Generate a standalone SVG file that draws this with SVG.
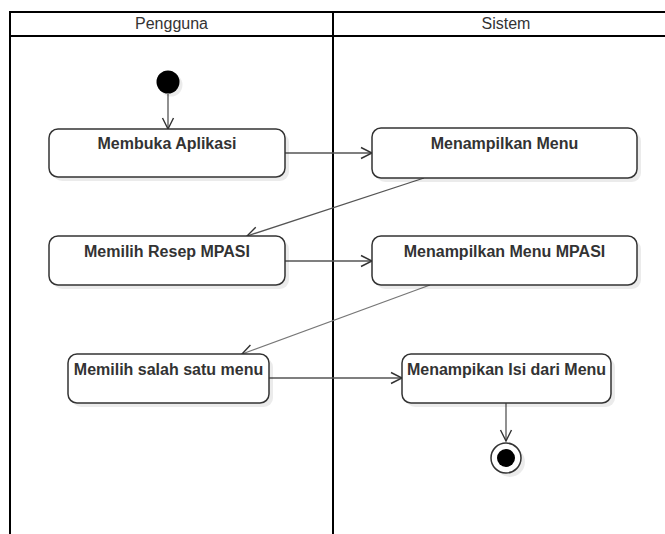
<svg xmlns="http://www.w3.org/2000/svg" width="665" height="534" viewBox="0 0 665 534">
<style>
.lane{fill:none;stroke:#000;stroke-width:2}
.hdr{font-family:"Liberation Sans",Arial,sans-serif;font-size:16px;fill:#333;text-anchor:middle}
.node{fill:#fff;stroke:#333;stroke-width:1.5}
.shadow{fill:#000;opacity:0.08}
.lbl{font-family:"Liberation Sans",Arial,sans-serif;font-size:16px;font-weight:bold;fill:#333;text-anchor:middle}
.conn{fill:none;stroke:#555;stroke-width:1.3;marker-end:url(#arr)}
</style>
<defs>
<marker id="arr" markerUnits="userSpaceOnUse" markerWidth="14" markerHeight="14" viewBox="0 0 14 14" refX="12" refY="7" orient="auto">
<path d="M1,1.5 L12,7 L1,12.5" fill="none" stroke="#333" stroke-width="1.4"/>
</marker>
</defs>
<rect width="665" height="534" fill="#fff"/>
<g id="swimlanes">
<rect class="lane" x="10" y="12" width="670" height="530"/>
<line class="lane" x1="10" y1="36" x2="680" y2="36"/>
<line class="lane" x1="333" y1="12" x2="333" y2="540"/>
<text class="hdr" x="171.5" y="29">Pengguna</text>
<text class="hdr" x="506" y="29">Sistem</text>
</g>
<g id="connectors">
<line class="conn" x1="168" y1="94" x2="168" y2="129"/>
<line class="conn" x1="285" y1="153" x2="372" y2="153"/>
<line class="conn" x1="424" y1="178" x2="247" y2="236"/>
<line class="conn" x1="285" y1="261" x2="372" y2="261"/>
<line class="conn" x1="430" y1="285" x2="242" y2="354" style="stroke:#777"/>
<line class="conn" x1="269" y1="378" x2="402" y2="378"/>
<line class="conn" x1="506" y1="403" x2="506" y2="441"/>
</g>
<g id="start">
<circle class="shadow" cx="171" cy="85" r="11.5"/>
<circle cx="168" cy="82" r="11.5" fill="#000"/>
</g>
<g id="n1">
<rect class="shadow" x="53" y="133" width="236" height="48" rx="9"/>
<rect class="node" x="49" y="129" width="236" height="48" rx="9"/>
<text class="lbl" x="167" y="149">Membuka Aplikasi</text>
</g>
<g id="n2">
<rect class="shadow" x="376" y="132" width="265" height="50" rx="9"/>
<rect class="node" x="372" y="128" width="265" height="50" rx="9"/>
<text class="lbl" x="504.5" y="149">Menampilkan Menu</text>
</g>
<g id="n3">
<rect class="shadow" x="53" y="240" width="236" height="49" rx="9"/>
<rect class="node" x="49" y="236" width="236" height="49" rx="9"/>
<text class="lbl" x="167" y="257">Memilih Resep MPASI</text>
</g>
<g id="n4">
<rect class="shadow" x="376" y="240" width="265" height="49" rx="9"/>
<rect class="node" x="372" y="236" width="265" height="49" rx="9"/>
<text class="lbl" x="504.5" y="257">Menampilkan Menu MPASI</text>
</g>
<g id="n5">
<rect class="shadow" x="72" y="358" width="201" height="49" rx="9"/>
<rect class="node" x="68" y="354" width="201" height="49" rx="9"/>
<text class="lbl" x="168.5" y="375">Memilih salah satu menu</text>
</g>
<g id="n6">
<rect class="shadow" x="406" y="358" width="209" height="49" rx="9"/>
<rect class="node" x="402" y="354" width="209" height="49" rx="9"/>
<text class="lbl" x="506.5" y="375">Menampikan Isi dari Menu</text>
</g>
<g id="end">
<circle class="shadow" cx="510" cy="462" r="15"/>
<circle cx="506" cy="458" r="15" fill="#fff" stroke="#333" stroke-width="1.5"/>
<circle cx="506" cy="458" r="9" fill="#000"/>
</g>
</svg>
